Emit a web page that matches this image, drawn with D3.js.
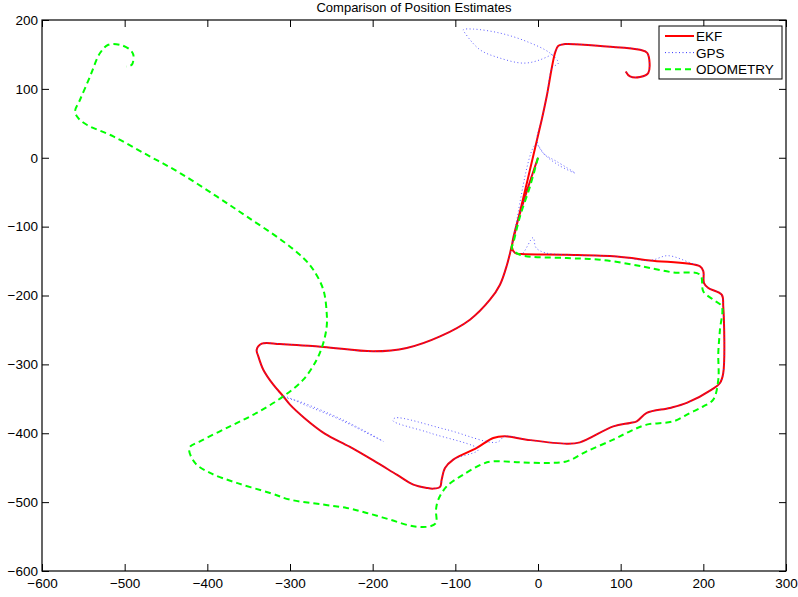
<!DOCTYPE html>
<html>
<head>
<meta charset="utf-8">
<script src="https://cdn.jsdelivr.net/npm/d3@7"></script>
<style>
  body { margin: 0; background: #fff; }
  text { font-family: "Liberation Sans", Arial, Helvetica, sans-serif; }
</style>
</head>
<body>
<div id="chart"></div>
<script>
// position estimates (x, y)
var ekfPath = [
    [0, 0], [-31.4, -130.6], [-27.8, -138.3], [-19.7, -139.8], [34.7, -140.8], [95.2, -143.3],
    [135.5, -149.1], [196.0, -157.8], [200.0, -165.0], [200.8, -181.9], [206.0, -189.1],
    [222.2, -198.8], [224.1, -215.8], [224.1, -312.5], [220.1, -327.0], [210.1, -336.7],
    [179.9, -356.0], [159.7, -363.3], [131.5, -370.5], [119.4, -382.7], [111.3, -385.1],
    [91.1, -390.0], [50.8, -413.2], [34.7, -415.1], [-13.7, -409.3], [-39.9, -404.5],
    [-54.1, -406.8], [-74.1, -421.3], [-102.5, -438.3], [-112.5, -450.4], [-116.5, -467.3],
    [-118.5, -477.9], [-126.6, -480.4], [-134.6, -479.4], [-150.8, -474.6], [-170.9, -460.1],
    [-199.2, -439.5], [-228.0, -419.5], [-258.0, -400.5], [-282.0, -378.5],
    [-300.0, -358.5], [-308.1, -346.4], [-320.2, -329.5], [-332.3, -307.7], [-338.3, -288.4],
    [-340.3, -278.7], [-334.2, -270.0], [-312.1, -270.4], [-259.7, -274.7], [-199.2, -281.1],
    [-158.8, -276.2], [-118.5, -259.4], [-82.3, -235.1], [-58.1, -206.1], [-46.0, -184.3],
    [-37.5, -155.3], [-31.4, -126.3], [4.5, 55.2], [10.5, 89.0], [20.6, 152.0], [24.6, 162.6],
    [32.7, 165.0], [83.1, 161.5], [123.4, 156.8], [132.2, 152.0], [133.4, 122.9],
    [123.4, 117.1], [111.3, 118.0], [106.1, 125.3]
];

var gpsPath = [
    [0, 0], [-31.4, -130.6], [-27.8, -138.3], [-19.7, -139.8],
    [-6.0, -116.1], [-2.4, -130.6], [8.5, -137.9],
    [34.7, -140.8], [95.2, -143.3], [135.5, -149.1],
    [157.2, -142.2], [183.9, -152.4],
    [196.0, -157.8], [200.0, -165.0], [200.8, -181.9], [206.0, -189.1], [222.2, -198.8],
    [224.1, -215.8], [224.1, -312.5], [220.1, -327.0], [210.1, -336.7], [179.9, -356.0],
    [159.7, -363.3], [131.5, -370.5], [119.4, -382.7], [111.3, -385.1], [91.1, -390.0],
    [50.8, -413.2], [34.7, -415.1], [-13.7, -409.3], [-39.9, -404.5],
    [-50.0, -413.2], [-110.4, -394.8], [-173.0, -377.8], [-175.4, -381.7], [-130.6, -399.6], [-72.2, -423.8],
    [-102.5, -438.3], [-112.5, -450.4], [-116.5, -467.3], [-118.5, -477.9], [-126.6, -480.4],
    [-134.6, -479.4], [-150.8, -474.6], [-170.9, -460.1], [-199.2, -439.5],
    [-228.0, -419.5], [-258.0, -400.5], [-282.0, -378.5], [-300.0, -358.5], [-308.1, -346.4],
    [-279.8, -360.0], [-239.5, -380.3], [-187.1, -411.8], [-233.5, -382.0], [-287.9, -354.1], [-308.1, -346.4],
    [-320.2, -329.5], [-332.3, -307.7], [-338.3, -288.4], [-340.3, -278.7], [-334.2, -270.0],
    [-312.1, -270.4], [-259.7, -274.7], [-199.2, -281.1], [-158.8, -276.2], [-118.5, -259.4],
    [-82.3, -235.1], [-58.1, -206.1], [-46.0, -184.3], [-37.5, -155.3], [-31.4, -126.3],
    [-2.7, 18.9], [8.5, 4.4], [22.6, -5.4], [44.8, -22.2], [24.2, -10.2], [4.8, 8.7], [-1.2, 26.1],
    [4.5, 55.2], [10.5, 89.0], [17.2, 130.6],
    [24.6, 137.4], [14.5, 152.0], [-13.7, 168.8], [-46.0, 181.0], [-78.3, 186.8], [-90.4, 185.8],
    [-88.3, 181.0], [-70.2, 156.8], [-46.0, 144.7], [-17.8, 137.4], [2.4, 142.2], [20.6, 153.8],
    [24.6, 162.6], [32.7, 165.0], [83.1, 161.5], [123.4, 156.8], [132.2, 152.0], [133.4, 122.9],
    [123.4, 117.1], [111.3, 118.0], [106.1, 125.3]
];

var odoPath = [
    [0, 0], [-9.7, -41.7], [-21.8, -85.2], [-29.9, -123.8], [-31.8, -131.1], [-21.8, -140.8],
    [34.7, -145.6], [75.0, -148.0], [115.3, -155.3], [135.5, -160.1], [163.7, -166.5],
    [196.0, -169.8], [200.0, -194.1], [212.0, -206.1], [222.2, -215.8], [220.1, -249.6],
    [218.1, -283.5], [218.1, -322.2], [212.0, -351.2], [200.0, -361.0], [183.9, -370.5],
    [163.7, -382.7], [131.5, -387.5], [111.3, -397.2], [91.1, -409.3], [58.9, -426.3],
    [34.7, -440.8], [10.5, -443.1], [-21.8, -442.2], [-54.1, -440.8], [-66.2, -444.1],
    [-90.4, -460.1], [-110.4, -477.1], [-120.6, -496.4], [-123.4, -510.9], [-123.4, -530.2],
    [-130.6, -535.1], [-150.8, -535.1], [-179.0, -525.4], [-207.2, -515.7], [-231.4, -508.4],
    [-259.7, -503.6], [-300.0, -496.4], [-324.2, -486.7], [-364.5, -472.1], [-396.7, -457.6],
    [-414.9, -443.1], [-421.8, -421.3], [-408.8, -411.8], [-372.6, -390.0], [-340.3, -370.5],
    [-308.1, -346.4], [-283.9, -322.2], [-267.7, -293.2], [-259.7, -268.9], [-255.6, -244.9],
    [-255.6, -225.4], [-259.7, -191.6], [-271.8, -162.6], [-283.9, -145.6], [-308.1, -121.5],
    [-352.4, -85.2], [-388.6, -56.2], [-433.0, -22.2], [-473.3, 4.4], [-513.7, 30.9],
    [-545.9, 47.9], [-556.1, 57.6], [-560.0, 67.2], [-554.0, 84.2], [-541.9, 118.0],
    [-529.8, 152.0], [-519.8, 164.0], [-505.6, 164.0], [-493.5, 156.8], [-489.5, 149.5],
    [-491.4, 135.0], [-498.3, 132.5]
];

var xTicks = [-600, -500, -400, -300, -200, -100, 0, 100, 200, 300];
var yTicks = [-600, -500, -400, -300, -200, -100, 0, 100, 200];
var legendLabels = ['EKF', 'GPS', 'ODOMETRY'];

var width = 798, height = 597;
var margin = {top: 20, right: 12, bottom: 26, left: 42};
var plotW = width - margin.left - margin.right;
var plotH = height - margin.top - margin.bottom;

var svg = d3.select('#chart').append('svg')
    .attr('width', width)
    .attr('height', height);

var g = svg.append('g')
    .attr('transform', 'translate(' + margin.left + ',' + margin.top + ')');

var x = d3.scaleLinear().domain([-600, 300]).range([0, plotW]);
var y = d3.scaleLinear().domain([-600, 200]).range([plotH, 0]);

var fmt = function(d) { return d < 0 ? '\u2212' + Math.abs(d) : String(d); };

// axes (matlab box style, ticks pointing inwards)
var xAxisB = d3.axisBottom(x).tickValues(xTicks).tickSize(-7).tickPadding(7).tickFormat(fmt);
var xAxisT = d3.axisTop(x).tickValues(xTicks).tickSize(-7).tickFormat('');
var yAxisL = d3.axisLeft(y).tickValues(yTicks).tickSize(-7).tickPadding(4).tickFormat(fmt);
var yAxisR = d3.axisRight(y).tickValues(yTicks).tickSize(-7).tickFormat('');

function styleAxis(sel) {
    sel.select('.domain').attr('stroke', '#000').attr('stroke-width', 1.2);
    sel.selectAll('.tick line').attr('stroke', '#000').attr('stroke-width', 1);
    sel.selectAll('.tick text').attr('fill', '#000').style('font-size', '13.5px');
}

g.append('g').attr('transform', 'translate(0,' + plotH + ')').call(xAxisB).call(styleAxis);
g.append('g').call(xAxisT).call(styleAxis);
g.append('g').call(yAxisL).call(styleAxis);
g.append('g').attr('transform', 'translate(' + plotW + ',0)').call(yAxisR).call(styleAxis);

// drop the domain paths, draw the box instead
g.selectAll('.domain').attr('d', null);
g.append('rect')
    .attr('width', plotW).attr('height', plotH)
    .attr('fill', 'none').attr('stroke', '#000').attr('stroke-width', 1.2);

var line = d3.line()
    .x(function(d) { return x(d[0]); })
    .y(function(d) { return y(d[1]); })
    .curve(d3.curveCatmullRom.alpha(0.5));

g.append('path').datum(ekfPath)
    .attr('d', line)
    .attr('fill', 'none').attr('stroke', '#ff0000').attr('stroke-width', 2)
    .attr('stroke-linejoin', 'round');

g.append('path').datum(gpsPath)
    .attr('d', line)
    .attr('fill', 'none').attr('stroke', '#3333ff').attr('stroke-width', 1)
    .attr('stroke-dasharray', '1,2.5').attr('opacity', 0.8);

g.append('path').datum(odoPath)
    .attr('d', line)
    .attr('fill', 'none').attr('stroke', '#00ff00').attr('stroke-width', 2)
    .attr('stroke-dasharray', '6,4');

// title
svg.append('text')
    .attr('x', margin.left + plotW / 2)
    .attr('y', 12)
    .attr('text-anchor', 'middle')
    .style('font-size', '13px')
    .text('Comparison of Position Estimates');

// legend
var legendStyles = [
    {color: '#ff0000', dash: null, w: 2},
    {color: '#3333ff', dash: '1,2.5', w: 1},
    {color: '#00ff00', dash: '6,4', w: 2}
];
var legend = svg.append('g').attr('transform', 'translate(659,26)');
legend.append('rect')
    .attr('width', 123).attr('height', 53)
    .attr('fill', '#fff').attr('stroke', '#000').attr('stroke-width', 1);

legendLabels.forEach(function(label, i) {
    var ly = 10 + i * 16.6;
    legend.append('line')
        .attr('x1', 6).attr('x2', 35).attr('y1', ly).attr('y2', ly)
        .attr('stroke', legendStyles[i].color)
        .attr('stroke-width', legendStyles[i].w)
        .attr('stroke-dasharray', legendStyles[i].dash);
    legend.append('text')
        .attr('x', 37).attr('y', ly + 5)
        .style('font-size', '13.5px')
        .text(label);
});
</script>
</body>
</html>
